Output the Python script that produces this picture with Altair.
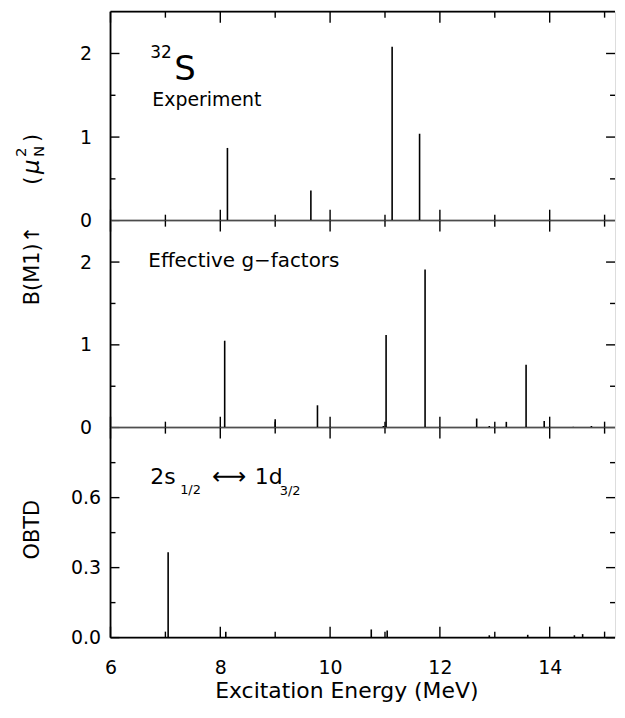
import altair as alt
import pandas as pd

FONT = "DejaVu Sans"

# ---------------- data ----------------
exp_energy = [8.13, 9.65, 11.13, 11.63]
exp_bm1 = [0.87, 0.36, 2.08, 1.04]

eff_energy = [8.08, 9.00, 9.77, 10.97, 11.02, 11.73, 12.67, 12.90, 13.21, 13.57, 13.90, 14.43, 14.76]
eff_bm1 = [1.05, 0.10, 0.27, 0.02, 1.12, 1.91, 0.11, 0.02, 0.07, 0.76, 0.08, 0.01, 0.02]

obtd_energy = [7.05, 8.10, 10.75, 11.04, 12.90, 13.60, 14.45, 14.60]
obtd_value = [0.366, 0.025, 0.035, 0.03, 0.01, 0.012, 0.01, 0.015]

x_major = [6, 8, 10, 12, 14]
x_minor = [7, 9, 11, 13, 15]
bm1_major = [0, 1, 2]
bm1_minor = [0.5, 1.5]
obtd_major = [0.0, 0.3, 0.6]
obtd_minor = [0.15, 0.45, 0.75]

x_title = "Excitation Energy (MeV)"
panel1_texts = ["Experiment"]
panel2_texts = ["Effective g\u2212factors"]

PX_PER_MEV = 55.17
W = 507
X_DOMAIN = [6, 6 + W / PX_PER_MEV]


def one_row():
    return pd.DataFrame({"a": [0]})


def text_layer(txt, x, y, size, align="left", angle=0, baseline="alphabetic", style="normal"):
    return alt.Chart(pd.DataFrame({"t": [txt]})).mark_text(
        font=FONT, fontSize=size, align=align, baseline=baseline, angle=angle,
        color="black", fontStyle=style
    ).encode(x=alt.value(x), y=alt.value(y), text="t:N")


def panel(energy, values, ydomain, ymajor, yminor, yfmt, H, bottom_axis, top_line, extras):
    xs = alt.Scale(domain=X_DOMAIN, nice=False, zero=False)
    ys = alt.Scale(domain=ydomain, nice=False, zero=True)
    if bottom_axis:
        xax = alt.Axis(values=x_major, ticks=False, domain=False, grid=False,
                       labelFontSize=19, labelFont=FONT, labelPadding=21, labelColor="black",
                       labelFlush=False,
                       title=x_title, titleFont=FONT, titleFontSize=22,
                       titleFontWeight="normal", titlePadding=3, titleColor="black",
                       titleX=237, titleAlign="center", format="d")
    else:
        xax = None
    yax = alt.Axis(values=ymajor, format=yfmt, ticks=False, domain=False, grid=False,
                   labelAlign="center", labelPadding=25, labelFont=FONT, labelFontSize=19,
                   labelColor="black", labelFlush=False, title=None)

    def X(f):
        return alt.X(f, scale=xs, axis=xax)

    def Y(f):
        return alt.Y(f, scale=ys, axis=yax)

    layers = []
    df = pd.DataFrame({"e": energy, "v": values})
    layers.append(alt.Chart(df).mark_rule(color="black", strokeWidth=1.6).encode(
        x=X("e:Q"), y=Y("v:Q"), y2=alt.datum(0)))

    # x ticks (inward, top and bottom)
    for vals, ln in ((x_major, 11), (x_minor, 6)):
        d = pd.DataFrame({"e": vals})
        base = alt.Chart(d).mark_rule(color="black", strokeWidth=1.4)
        layers.append(base.encode(x=X("e:Q"), y=alt.value(H), y2=alt.value(H - ln)))
        layers.append(base.encode(x=X("e:Q"), y=alt.value(0), y2=alt.value(ln)))
    # y ticks (inward, left and right)
    for vals, ln in ((ymajor, 9), (yminor, 5)):
        d = pd.DataFrame({"v": vals})
        base = alt.Chart(d).mark_rule(color="black", strokeWidth=1.4)
        layers.append(base.encode(y=Y("v:Q"), x=alt.value(0), x2=alt.value(ln)))
        layers.append(base.encode(y=Y("v:Q"), x=alt.value(W - ln), x2=alt.value(W)))

    # frame lines
    fr = alt.Chart(one_row()).mark_rule(color="black", strokeWidth=1.8)
    layers.append(fr.encode(x=alt.value(0), y=alt.value(0), y2=alt.value(H)))
    layers.append(fr.encode(x=alt.value(0), x2=alt.value(W), y=alt.value(H)))
    if top_line:
        layers.append(fr.encode(x=alt.value(0), x2=alt.value(W), y=alt.value(0)))
    # keeps the left gutter at 102 px
    layers.append(alt.Chart(one_row()).mark_rule(color="white", strokeWidth=1).encode(
        x=alt.value(-101.5), y=alt.value(0), y2=alt.value(1)))

    layers.extend(extras)
    return alt.layer(*layers).properties(width=W, height=H)


H1, H2, H3 = 210, 208, 211

p1_extras = [
    text_layer("32", 40, 47, 17),
    text_layer("S", 64, 69, 34),
    text_layer(panel1_texts[0], 42, 95, 19),
    text_layer("B(M1)\u2191", -72, 295, 21, angle=270),
    text_layer("(", -72, 174, 21, angle=270),
    text_layer("\u03bc", -72, 163, 23, angle=270, style="italic"),
    text_layer("2", -85, 146, 15, angle=270),
    text_layer("N", -67, 146, 15, angle=270),
    text_layer(")", -72, 131, 21, angle=270),
]
p2_extras = [
    text_layer(panel2_texts[0], 38, 47, 20),
]
p3_extras = [
    text_layer("2s", 40, 57, 22),
    text_layer("1/2", 70, 67, 13),
    text_layer("\u27f7", 102, 57, 24),
    text_layer("1d", 145, 57, 22),
    text_layer("3/2", 170, 68, 13),
    text_layer("OBTD", -72, H3 / 2 - 3, 21, align="center", angle=270),
]

p1 = panel(exp_energy, exp_bm1, [0, 2.5], bm1_major, bm1_minor, "d", H1, False, True, p1_extras)
p2 = panel(eff_energy, eff_bm1, [0, 2.5], bm1_major, bm1_minor, "d", H2, False, False, p2_extras)
p3 = panel(obtd_energy, obtd_value, [0, 0.9], obtd_major, obtd_minor, ".1f", H3, True, False, p3_extras)

chart = alt.vconcat(p1, p2, p3, spacing=0, bounds="flush").properties(
    padding={"left": 0, "top": 0, "right": 0, "bottom": 0}
).configure_view(stroke="transparent").configure(background="white")

chart.save("out.html", embed_options={"renderer": "svg", "actions": False})
